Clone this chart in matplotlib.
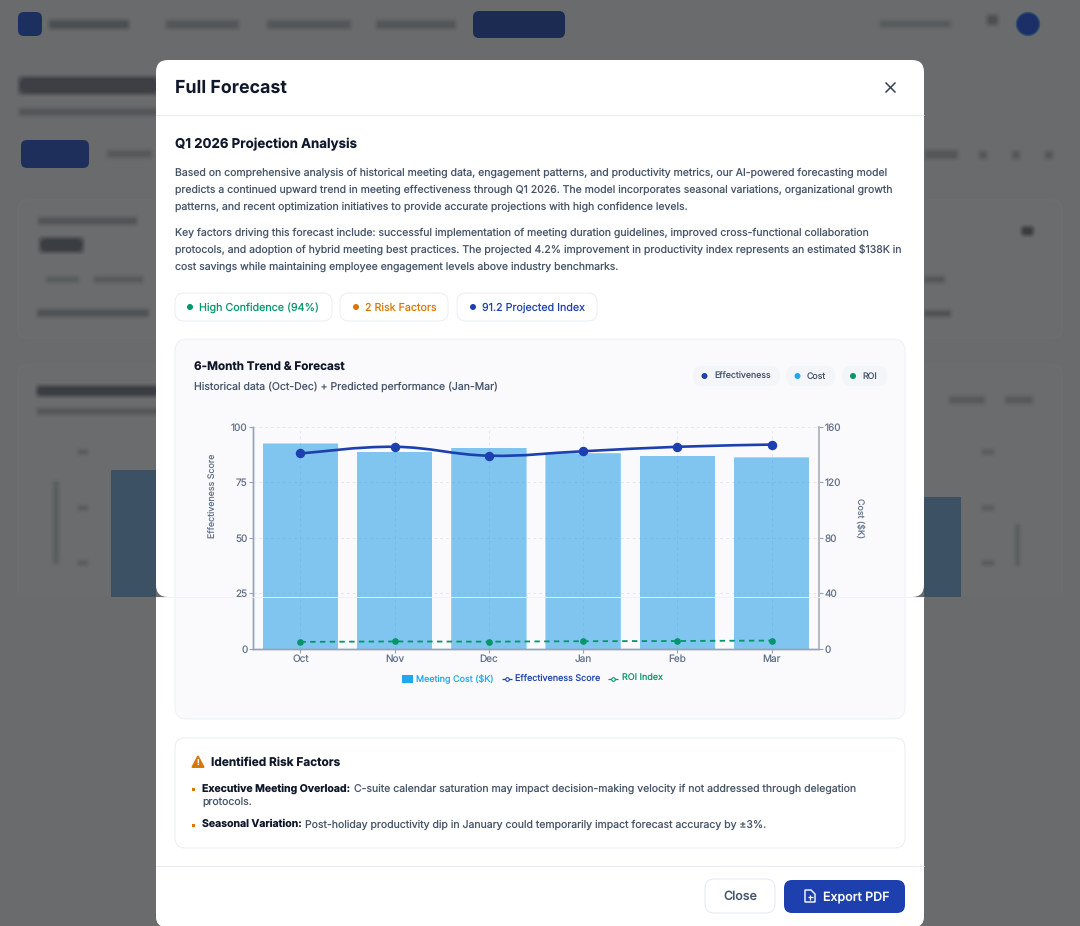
"""
Full Forecast modal with the 6-month trend chart
"""

import matplotlib
matplotlib.use('Agg')
import matplotlib.pyplot as plt
from matplotlib.patches import FancyBboxPatch, Rectangle, Circle, Polygon
from matplotlib.path import Path as MplPath
from matplotlib.patches import PathPatch

plt.rcParams['font.family'] = ['Inter', 'DejaVu Sans']
plt.rcParams['text.hinting'] = 'no_hinting'
plt.rcParams['text.hinting_factor'] = 1
plt.rcParams['lines.solid_capstyle'] = 'butt'

# Chart data
months = ['Oct', 'Nov', 'Dec', 'Jan', 'Feb', 'Mar']
meeting_cost = [148, 142, 145, 141, 139, 138]
effectiveness = [88, 91, 87, 89, 91, 92]
roi_index = [3.2, 3.4, 3.3, 3.5, 3.6, 3.8]
score_ticks = [0, 25, 50, 75, 100]
cost_ticks = [0, 40, 80, 120, 160]

W, H = 1080, 926
INK = '#0f172a'
BODY = '#475569'
MUTED = '#64748b'
BLUE = '#1e40af'
GREEN = '#059669'
ORANGE = '#d97706'
SKY = '#1fa9ec'
LINE = '#e9edf3'


def px(size):
    return size * 0.72


def box(ax, x0, y0, x1, y1, r=8, fc='white', ec='none', lw=0.7, z=1, alpha=None):
    patch = FancyBboxPatch((x0 + r, y0 + r), x1 - x0 - 2 * r, y1 - y0 - 2 * r,
                           boxstyle=f'round,pad={r},rounding_size={r}',
                           fc=fc, ec=ec, lw=lw, zorder=z, alpha=alpha)
    ax.add_patch(patch)
    return patch


def blur(ax, x0, y0, x1, y1, color='#3f4348', strength=0.3):
    # stacked boxes stand in for the backdrop blur
    cy = (y0 + y1) / 2
    for grow, a in [(5, 0.12), (4, 0.18), (3, 0.25), (2, 0.35), (1, 0.45), (0, 0.55)]:
        h = max((y1 - y0) / 2 + grow, 1)
        box(ax, x0 - grow, cy - h, x1 + grow, cy + h, r=min(h, 6) * 0.95, fc=color, z=1,
            alpha=a * strength)


def label(ax, x, y, s, size=12.5, color=BODY, weight='normal', ha='left', z=4, **kw):
    return ax.text(x, y + 0.8, s, fontsize=px(size), color=color, fontweight=weight,
                   ha=ha, va='center', zorder=z, **kw)


def smooth_path(xs, ys, t=0.2):
    # bezier through the points, same idea as a chart.js tension curve
    verts = [(xs[0], ys[0])]
    codes = [MplPath.MOVETO]
    n = len(xs)
    for i in range(n - 1):
        p0 = max(i - 1, 0)
        p3 = min(i + 2, n - 1)
        verts.append((xs[i] + t * (xs[i + 1] - xs[p0]), ys[i] + t * (ys[i + 1] - ys[p0])))
        verts.append((xs[i + 1] - t * (xs[p3] - xs[i]), ys[i + 1] - t * (ys[p3] - ys[i])))
        verts.append((xs[i + 1], ys[i + 1]))
        codes += [MplPath.CURVE4] * 3
    return MplPath(verts, codes)


fig = plt.figure(figsize=(W / 100, H / 100), dpi=100, facecolor='#6a6b6c')

ui = fig.add_axes([0, 0, 1, 1], zorder=0)
ui.set_xlim(0, W)
ui.set_ylim(H, 0)
ui.axis('off')

# Dimmed page behind the modal
box(ui, 18, 12, 42, 36, r=6, fc='#1c3060')
blur(ui, 51, 22, 127, 27, strength=0.5)
blur(ui, 168, 22, 237, 27, strength=0.3)
blur(ui, 269, 22, 349, 27, strength=0.3)
blur(ui, 378, 22, 454, 27, strength=0.3)
box(ui, 473, 11, 565, 38, r=6, fc='#1c2b52')
blur(ui, 881, 22, 949, 26, strength=0.2)
blur(ui, 989, 17, 996, 23, strength=0.5)
ui.add_patch(Circle((1028, 24), 11.5, fc='#1c2f66', ec='#33506f', lw=1))
blur(ui, 21, 79, 156, 92, color='#33363b', strength=0.7)
blur(ui, 21, 110, 156, 114, strength=0.3)
box(ui, 21, 140, 89, 168, r=6, fc='#1e2f5c')
blur(ui, 109, 152, 150, 156, strength=0.25)
blur(ui, 927, 152, 956, 157, strength=0.3)
for cx in [983, 1016, 1049]:
    blur(ui, cx - 2, 153, cx + 2, 157, strength=0.3)

box(ui, 18, 200, 1062, 338, r=10, fc='#6b6c6d', ec='#6f7071')
box(ui, 18, 365, 1062, 640, r=10, fc='#6b6c6d', ec='#6f7071')
ui.add_patch(Rectangle((0, 597), W, H - 597, fc='#6a6b6c', ec='none', zorder=1.5))

blur(ui, 40, 219, 135, 223, strength=0.35)
blur(ui, 42, 240, 81, 250, color='#33363b', strength=0.8)
blur(ui, 48, 278, 77, 281, strength=0.2)
blur(ui, 96, 278, 141, 281, strength=0.25)
blur(ui, 39, 311, 147, 315, strength=0.4)
blur(ui, 39, 388, 156, 394, color='#33363b', strength=0.8)
blur(ui, 39, 410, 156, 413, strength=0.3)
blur(ui, 55, 483, 57, 562, strength=0.2)
blur(ui, 1024, 229, 1031, 233, color='#33363b', strength=0.9)
blur(ui, 926, 278, 943, 281, strength=0.3)
blur(ui, 926, 312, 949, 315, strength=0.4)
blur(ui, 951, 398, 983, 402, strength=0.25)
blur(ui, 1007, 398, 1031, 402, strength=0.25)
ui.add_patch(Rectangle((111, 470), 45, 127, fc='#3c5163', ec='none', zorder=1.2))
ui.add_patch(Rectangle((924, 497), 37, 100, fc='#3c5163', ec='none', zorder=1.2))
for ty in [452, 508, 563]:
    blur(ui, 80, ty - 1, 86, ty + 1, strength=0.2)
    blur(ui, 984, ty - 1, 992, ty + 1, strength=0.2)
blur(ui, 1017, 526, 1018, 564, strength=0.2)

# Modal sheet
box(ui, 156, 60, 924, 597, r=12, z=2)
ui.add_patch(Rectangle((156, 597), 768, 318, fc='white', ec='none', zorder=2))
box(ui, 156, 880, 924, 927, r=10, z=2)

ui.plot([156, 924], [115, 115], color=LINE, lw=0.7, zorder=3)
ui.plot([156, 924], [866, 866], color=LINE, lw=0.7, zorder=3)

label(ui, 175, 87.5, 'Full Forecast', size=17.8, color=INK, weight='bold')
ui.plot([885.5, 895.5], [82.5, 92.5], color='#334155', lw=1.1, zorder=4)
ui.plot([885.5, 895.5], [92.5, 82.5], color='#334155', lw=1.1, zorder=4)

label(ui, 175, 144, 'Q1 2026 Projection Analysis', size=13.3, color=INK, weight='bold')
para_one = [
    'Based on comprehensive analysis of historical meeting data, engagement patterns, and productivity metrics, our AI-powered forecasting model',
    'predicts a continued upward trend in meeting effectiveness through Q1 2026. The model incorporates seasonal variations, organizational growth',
    'patterns, and recent optimization initiatives to provide accurate projections with high confidence levels.',
]
para_two = [
    'Key factors driving this forecast include: successful implementation of meeting duration guidelines, improved cross-functional collaboration',
    'protocols, and adoption of hybrid meeting best practices. The projected 4.2% improvement in productivity index represents an estimated $138K in',
    'cost savings while maintaining employee engagement levels above industry benchmarks.',
]
for i, line in enumerate(para_one):
    label(ui, 175, 172 + 17 * i, line, size=10.5)
for i, line in enumerate(para_two):
    label(ui, 175, 232 + 17 * i, line, size=10.5)

# Status chips
chips = [(175, 332, 190, 199, 'High Confidence (94%)', GREEN),
         (340, 448, 356, 365, '2 Risk Factors', ORANGE),
         (457, 597, 473, 482, '91.2 Projected Index', BLUE)]
for x0, x1, dot, tx, s, c in chips:
    box(ui, x0, 293, x1, 321, r=9, ec=LINE, z=3)
    ui.add_patch(Circle((dot, 307), 3, fc=c, ec='none', zorder=4))
    label(ui, tx, 307, s, size=10.7, color=c)

# Chart card
box(ui, 175, 339, 905, 719, r=12, fc='#fafafc', ec='#edf0f6', z=3)
label(ui, 194, 367, '6-Month Trend & Forecast', size=11.7, color=INK, weight='bold')
label(ui, 194, 386, 'Historical data (Oct-Dec) + Predicted performance (Jan-Mar)', size=10.5)

legend_chips = [(693, 780, 704.5, 714, 'Effectiveness', BLUE),
                (786, 835, 797.5, 807, 'Cost', SKY),
                (842, 887, 853, 862, 'ROI', GREEN)]
for x0, x1, dot, tx, s, c in legend_chips:
    box(ui, x0, 366, x1, 386, r=9, fc='#f3f5f9', z=3.5)
    ui.add_patch(Circle((dot, 376), 3, fc=c, ec='none', zorder=4))
    label(ui, tx, 376, s, size=8.8, color=BODY)

# Chart axes, cost axis underneath so the lines sit on the bars
left, right, top, bottom = 253.3, 818.7, 426.8, 649
ax_cost = fig.add_axes([left / W, 1 - bottom / H, (right - left) / W, (bottom - top) / H], zorder=1)
ax_cost.patch.set_visible(False)
ax_score = ax_cost.twinx()
ax_score.patch.set_visible(False)

x_pos = list(range(len(months)))
bars = ax_cost.bar(x_pos, meeting_cost, width=0.8, color='#1a9be6', alpha=0.55, linewidth=0, zorder=2)
for bar in bars:
    clip = FancyBboxPatch((bar.get_x(), -10), bar.get_width(), bar.get_height() + 10,
                          boxstyle='round,pad=0,rounding_size=0.035', mutation_aspect=3.0,
                          transform=ax_cost.transData, fc='none', ec='none')
    ax_cost.add_patch(clip)
    bar.set_clip_path(clip)

ax_score.add_patch(PathPatch(smooth_path(x_pos, effectiveness), fc='none', ec=BLUE, lw=1.9, zorder=3))
ax_score.plot(x_pos, effectiveness, ls='none', marker='o', ms=5.8, color=BLUE, zorder=4)
ax_score.plot(x_pos, roi_index, color=GREEN, lw=1.3, dashes=(3.0, 2.4), marker='o', ms=3.8, zorder=4)

ax_cost.set_xlim(-0.5, 5.5)
ax_cost.set_ylim(0, 160)
ax_score.set_ylim(0, 100)
ax_cost.set_xticks(x_pos, months)
ax_cost.set_yticks(cost_ticks)
ax_score.set_yticks(score_ticks)

ax_score.yaxis.tick_left()
ax_cost.yaxis.tick_right()
# both grids on the lower axes, the bars cover them
ax_cost.grid(axis='both', color='#e2e8f0', lw=0.7, ls=(0, (3, 3)), zorder=0)
ax_cost.set_axisbelow(True)

for ax in (ax_cost, ax_score):
    ax.spines['top'].set_visible(False)
    ax.spines['left'].set_color('#94a3b8')
    ax.spines['right'].set_color('#b4bbc4')
    ax.spines['bottom'].set_color('#94a3b8')
    ax.spines['left'].set_linewidth(1.0)
    ax.spines['right'].set_linewidth(1.3)
    ax.spines['bottom'].set_linewidth(1.0)
    ax.tick_params(labelsize=px(10), labelcolor=MUTED, color='#94a3b8', length=3, width=0.8, pad=1.2)

label(ui, 212, 495, 'Effectiveness Score', size=8.9, color=MUTED, ha='center', rotation=90)
label(ui, 860, 517, 'Cost ($K)', size=8.9, color=MUTED, ha='center', rotation=270)

# Chart legend
ui.add_patch(Rectangle((402, 674.5), 10.5, 8.5, fc=SKY, ec='none', zorder=4))
label(ui, 416, 678, 'Meeting Cost ($K)', size=9, color=SKY)
ui.plot([502, 512], [678.5, 678.5], color=BLUE, lw=0.9, zorder=4)
ui.plot([507], [678.5], color=BLUE, marker='o', ms=2.6, mfc='white', mew=0.8, zorder=4)
label(ui, 515, 678, 'Effectiveness Score', size=9, color=BLUE)
ui.plot([608, 618], [678.5, 678.5], color=GREEN, lw=0.9, zorder=4)
ui.plot([613], [678.5], color=GREEN, marker='o', ms=2.6, mfc='white', mew=0.8, zorder=4)
label(ui, 622, 678, 'ROI Index', size=9, color=GREEN)

# Risk card
box(ui, 175, 738, 905, 848, r=10, ec='#e9edf3', z=3)
ui.add_patch(Polygon([(198, 756.5), (192.5, 767), (203.5, 767)], closed=True, fc=ORANGE,
                     ec=ORANGE, lw=1.4, joinstyle='round', zorder=4))
ui.text(198, 763, '!', fontsize=px(8), color='white', fontweight='bold', ha='center', va='center', zorder=5)
label(ui, 211, 761.5, 'Identified Risk Factors', size=11.85, color=INK, weight='bold')

ui.add_patch(Rectangle((192, 787.5), 3, 3, fc=ORANGE, ec='none', zorder=4))
label(ui, 202.5, 787.5, 'Executive Meeting Overload:', size=10.5, color=INK, weight='bold')
label(ui, 353.5, 787.5, 'C-suite calendar saturation may impact decision-making velocity if not addressed through delegation', size=10.5)
label(ui, 202.5, 802.5, 'protocols.', size=10.5)
ui.add_patch(Rectangle((192, 823.5), 3, 3, fc=ORANGE, ec='none', zorder=4))
label(ui, 202.5, 823.5, 'Seasonal Variation:', size=10.5, color=INK, weight='bold')
label(ui, 305, 823.5, 'Post-holiday productivity dip in January could temporarily impact forecast accuracy by ±3%.', size=10.5)

# Footer buttons
box(ui, 705, 879, 775, 913, r=9, ec='#e2e8f0', z=3)
label(ui, 740, 896, 'Close', size=12.5, color=BODY, weight='medium', ha='center')
box(ui, 784, 880, 905, 913, r=8, fc=BLUE, z=3)
ui.add_patch(Polygon([(805, 890), (811, 890), (815, 894), (815, 902), (805, 902)], closed=True,
                     fc='none', ec='white', lw=1.0, zorder=4))
ui.plot([807.5, 812.5], [897, 897], color='white', lw=0.9, zorder=4)
ui.plot([810, 810], [894.5, 899.5], color='white', lw=0.9, zorder=4)
label(ui, 823, 896, 'Export PDF', size=12.5, color='white', weight='medium')

# Faint seam across the modal
seam = fig.add_axes([0, 0, 1, 1], zorder=3)
seam.set_xlim(0, W)
seam.set_ylim(H, 0)
seam.axis('off')
seam.patch.set_visible(False)
seam.plot([156, 924], [597, 597], color='#eef1f7', lw=0.7, alpha=0.9)

fig.savefig('out.png', dpi=100, facecolor=fig.get_facecolor())
plt.close(fig)
